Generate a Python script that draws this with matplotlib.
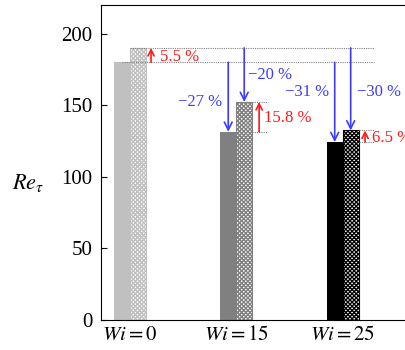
import matplotlib.pyplot as plt
import numpy as np

plt.rcParams['font.family'] = ['Liberation Serif', 'DejaVu Serif']
plt.rcParams['mathtext.fontset'] = 'stix'
plt.rcParams['hatch.linewidth'] = 1.0

# Re_tau for each Weissenberg number, without and with the second case
groups = [r'$Wi = 0$', r'$Wi = 15$', r'$Wi = 25$']
re_plain = [180.0, 131.5, 124.3]
re_hatched = [190.0, 152.3, 132.4]
drop_plain = ['−27 %', '−31 %']
drop_hatched = ['−20 %', '−30 %']
rise = ['5.5 %', '15.8 %', '6.5 %']
colors = ['#c0c0c0', '#808080', '#000000']

blue = '#3b3bff'
red = '#ff1a1a'
w = 0.15
dots = (0, (1, 1))

fig = plt.figure(figsize=(4.06, 3.5), dpi=100)
ax = fig.add_axes([101 / 406, 30 / 350, 0.792, 0.9])

x = np.arange(len(groups))
ax.bar(x - w / 2, re_plain, w, color=colors, linewidth=0)
for i in range(len(groups)):
    ax.bar(x[i] + w / 2, re_hatched[i], w, facecolor='white',
           edgecolor=colors[i], hatch='xxxxxxxx', linewidth=0.8)

# reference levels of the Wi = 0 case
ax.plot([-0.07, 2.29], [re_plain[0]] * 2, ls=dots, color='gray', lw=0.8)
ax.plot([0.0, 2.29], [re_hatched[0]] * 2, ls=dots, color='gray', lw=0.8)

arrow = dict(arrowstyle='->', lw=1.2, mutation_scale=14, shrinkA=0, shrinkB=0)

# drops relative to Wi = 0
ax.set_xlim(-0.27, 2.75)
for i in [1, 2]:
    ax.annotate('', xy=(x[i] - w / 2, re_plain[i]), xytext=(x[i] - w / 2, re_plain[0]),
                arrowprops=dict(arrow, color=blue))
    ax.annotate('', xy=(x[i] + w / 2, re_hatched[i]), xytext=(x[i] + w / 2, re_hatched[0]),
                arrowprops=dict(arrow, color=blue))
ax.text(0.87, 152, drop_plain[0], color=blue, fontsize=12, ha='right', va='center')
ax.text(1.11, 171, drop_hatched[0], color=blue, fontsize=12, ha='left', va='center')
ax.text(1.87, 159, drop_plain[1], color=blue, fontsize=12, ha='right', va='center')
ax.text(2.13, 159, drop_hatched[1], color=blue, fontsize=12, ha='left', va='center')

# rise from plain to hatched within each group
arrow_x = [0.2, 1.215, 2.21]
label_x = [0.28, 1.26, 2.275]
for i in range(len(groups)):
    if i > 0:
        ax.plot([x[i] + w, 1.29 + (i - 1)], [re_plain[i]] * 2, ls=dots, color='gray', lw=0.8)
        ax.plot([x[i] + w, 1.29 + (i - 1)], [re_hatched[i]] * 2, ls=dots, color='gray', lw=0.8)
    ax.annotate('', xy=(arrow_x[i], re_hatched[i]), xytext=(arrow_x[i], re_plain[i]),
                arrowprops=dict(arrow, color=red, mutation_scale=11))
    ax.text(label_x[i], (re_plain[i] + re_hatched[i]) / 2 - 1, rise[i],
            color=red, fontsize=12, ha='left', va='center')

ax.set_ylim(0, 220)
ax.set_yticks([0, 50, 100, 150, 200])
ax.set_xticks(x)
ax.set_xticklabels(groups, fontsize=15)
ax.tick_params(axis='y', direction='in', length=4, labelsize=15, pad=6)
ax.tick_params(axis='x', length=0, pad=4)
ax.spines['right'].set_visible(False)

fig.text(28 / 406, 1 - 183 / 350, r'$Re_\tau$', fontsize=16, ha='center', va='center')

fig.savefig('out.png', dpi=100)
